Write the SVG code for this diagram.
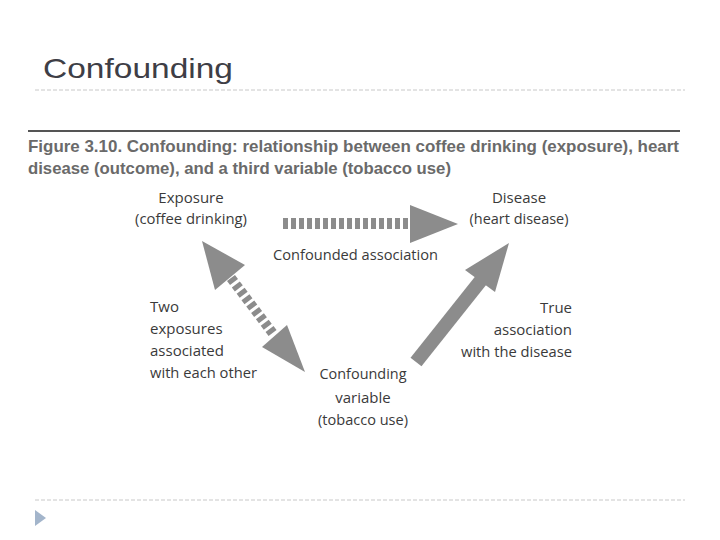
<svg xmlns="http://www.w3.org/2000/svg" width="720" height="540" viewBox="0 0 720 540">
<style>
.title{font-family:"Liberation Sans",Arial,sans-serif;font-size:28px;fill:#3e3e46}
.cap{font-family:"Liberation Sans",Arial,sans-serif;font-size:16.5px;font-weight:bold;fill:#6a6a6a}
.lbl{font-family:"Open Sans","Noto Sans",sans-serif;font-size:15px;fill:#3a3a3a}
.rule{stroke:#c8c8c8;stroke-width:1;stroke-dasharray:4 2}
.arr{fill:#8c8c8c}
.dash{stroke:#8c8c8c;fill:none;stroke-dasharray:5 3}
</style>
<rect width="720" height="540" fill="#ffffff"/>
<text class="title" x="43" y="78" textLength="190" lengthAdjust="spacingAndGlyphs">Confounding</text>
<line class="rule" x1="35" y1="90" x2="685" y2="90"/>
<line x1="28" y1="131" x2="680" y2="131" stroke="#555555" stroke-width="2"/>
<text class="cap" x="28" y="152" textLength="651" lengthAdjust="spacingAndGlyphs">Figure 3.10. Confounding: relationship between coffee drinking (exposure), heart</text>
<text class="cap" x="28" y="174" textLength="423" lengthAdjust="spacingAndGlyphs">disease (outcome), and a third variable (tobacco use)</text>

<g id="connectors">
  <g id="confounded-association">
    <line class="dash" x1="283" y1="223.5" x2="411" y2="223.5" stroke-width="11"/>
    <polygon class="arr" points="410,205 458,224 410,243"/>
  </g>
  <g id="exposures-associated">
    <line class="dash" x1="231" y1="278" x2="274" y2="335" stroke-width="10"/>
    <polygon class="arr" points="202,241 245,265 215,290"/>
    <polygon class="arr" points="305,372 262,347 287,325"/>
  </g>
  <g id="true-association">
    <line x1="416" y1="362" x2="482" y2="279" stroke="#8c8c8c" stroke-width="14"/>
    <polygon class="arr" points="509,243 495,292 465,270"/>
  </g>
</g>

<g id="exposure">
  <text class="lbl" x="191" y="203" text-anchor="middle">Exposure</text>
  <text class="lbl" x="191" y="224" text-anchor="middle" textLength="112" lengthAdjust="spacingAndGlyphs">(coffee drinking)</text>
</g>
<g id="disease">
  <text class="lbl" x="519" y="203" text-anchor="middle">Disease</text>
  <text class="lbl" x="519" y="224" text-anchor="middle" textLength="99" lengthAdjust="spacingAndGlyphs">(heart disease)</text>
</g>
<g id="confounder">
  <text class="lbl" x="363" y="379" text-anchor="middle" textLength="87" lengthAdjust="spacingAndGlyphs">Confounding</text>
  <text class="lbl" x="363" y="403" text-anchor="middle">variable</text>
  <text class="lbl" x="363" y="425" text-anchor="middle" textLength="90" lengthAdjust="spacingAndGlyphs">(tobacco use)</text>
</g>
<g id="label-confounded">
  <text class="lbl" x="273" y="260" textLength="165" lengthAdjust="spacingAndGlyphs">Confounded association</text>
</g>
<g id="label-two-exposures">
  <text class="lbl" x="150" y="312">Two</text>
  <text class="lbl" x="150" y="334">exposures</text>
  <text class="lbl" x="150" y="356">associated</text>
  <text class="lbl" x="150" y="378" textLength="107" lengthAdjust="spacingAndGlyphs">with each other</text>
</g>
<g id="label-true">
  <text class="lbl" x="572" y="313" text-anchor="end">True</text>
  <text class="lbl" x="572" y="335" text-anchor="end">association</text>
  <text class="lbl" x="572" y="357" text-anchor="end" textLength="111" lengthAdjust="spacingAndGlyphs">with the disease</text>
</g>

<line class="rule" x1="35" y1="500" x2="685" y2="500"/>
<polygon points="35,510 46,518 35,526" fill="#a3b5cb"/>
</svg>
